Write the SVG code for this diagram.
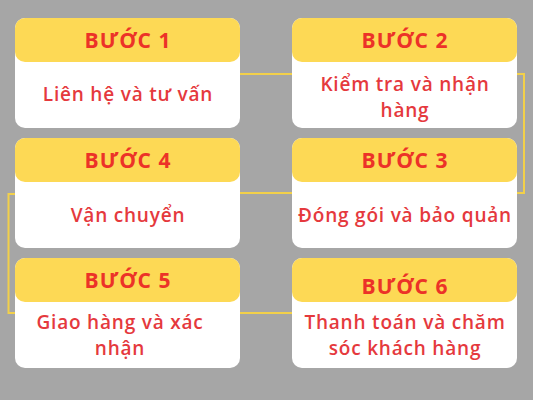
<svg xmlns="http://www.w3.org/2000/svg" width="533" height="400" viewBox="0 0 533 400">
<style>
.bg{fill:#a6a6a6}
.card{fill:#ffffff}
.head{fill:#fdd955}
.title{font-family:"Open Sans","Noto Sans",sans-serif;font-weight:700;font-size:21px;letter-spacing:1px;fill:#ec3228;text-anchor:middle}
.body{font-family:"Open Sans","Noto Sans",sans-serif;font-weight:600;font-size:19px;letter-spacing:0.8px;fill:#e5393d;text-anchor:middle}
.conn{fill:none;stroke:#f2d04a;stroke-width:2}
</style>
<rect class="bg" x="0" y="0" width="533" height="400"/>
<g id="connectors">
<path class="conn" d="M240,74 H292"/>
<path class="conn" d="M517,74 H524 V193 H517"/>
<path class="conn" d="M292,193 H240"/>
<path class="conn" d="M15,194 H8.5 V313 H15"/>
<path class="conn" d="M240,313 H292"/>
</g>
<g id="step1">
<rect class="card" x="15" y="18" width="225" height="110" rx="10"/>
<rect class="head" x="15" y="18" width="225" height="44" rx="10"/>
<text class="title" x="128" y="48">BƯỚC 1</text>
<text class="body" x="128" y="101">Liên hệ và tư vấn</text>
</g>
<g id="step2">
<rect class="card" x="292" y="18" width="225" height="110" rx="10"/>
<rect class="head" x="292" y="18" width="225" height="44" rx="10"/>
<text class="title" x="405" y="48">BƯỚC 2</text>
<text class="body"><tspan x="405" y="90.5">Kiểm tra và nhận</tspan><tspan x="405" y="116.5">hàng</tspan></text>
</g>
<g id="step3">
<rect class="card" x="292" y="138" width="225" height="110" rx="10"/>
<rect class="head" x="292" y="138" width="225" height="44" rx="10"/>
<text class="title" x="405" y="168">BƯỚC 3</text>
<text class="body" x="405" y="222">Đóng gói và bảo quản</text>
</g>
<g id="step4">
<rect class="card" x="15" y="138" width="225" height="110" rx="10"/>
<rect class="head" x="15" y="138" width="225" height="44" rx="10"/>
<text class="title" x="128" y="168">BƯỚC 4</text>
<text class="body" x="128" y="222">Vận chuyển</text>
</g>
<g id="step5">
<rect class="card" x="15" y="258" width="225" height="110" rx="10"/>
<rect class="head" x="15" y="258" width="225" height="44" rx="10"/>
<text class="title" x="128" y="288">BƯỚC 5</text>
<text class="body"><tspan x="120" y="329">Giao hàng và xác</tspan><tspan x="120" y="355">nhận</tspan></text>
</g>
<g id="step6">
<rect class="card" x="292" y="258" width="225" height="110" rx="10"/>
<rect class="head" x="292" y="258" width="225" height="44" rx="10"/>
<text class="title" x="405" y="294">BƯỚC 6</text>
<text class="body"><tspan x="405" y="329">Thanh toán và chăm</tspan><tspan x="405" y="355">sóc khách hàng</tspan></text>
</g>
</svg>
